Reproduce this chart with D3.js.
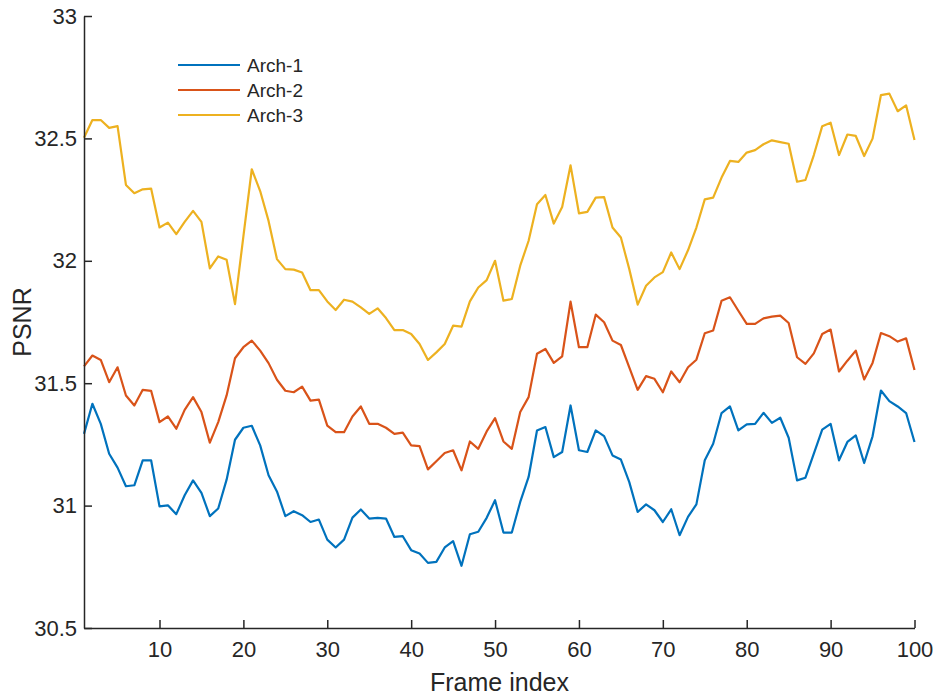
<!DOCTYPE html>
<html>
<head>
<meta charset="utf-8">
<script src="https://cdn.jsdelivr.net/npm/d3@7"></script>
<style>
body { margin: 0; background: #fff; }
text { font-family: "Liberation Sans", Arial, sans-serif; fill: #262626; }
</style>
</head>
<body>
<svg id="chart" width="935" height="697"></svg>
<script>
// PSNR per frame
var arch1 = [31.293, 31.416, 31.334, 31.212, 31.155, 31.079, 31.083, 31.185, 31.185, 30.997,
  31.001, 30.965, 31.042, 31.103, 31.052, 30.957, 30.988, 31.106, 31.269, 31.318,
  31.326, 31.246, 31.124, 31.058, 30.957, 30.977, 30.961, 30.933, 30.943, 30.861,
  30.829, 30.861, 30.951, 30.984, 30.947, 30.950, 30.947, 30.872, 30.875, 30.818,
  30.804, 30.766, 30.770, 30.829, 30.855, 30.754, 30.883, 30.893, 30.950, 31.022,
  30.890, 30.890, 31.015, 31.117, 31.307, 31.321, 31.198, 31.219, 31.409, 31.226,
  31.219, 31.307, 31.284, 31.205, 31.188, 31.096, 30.974, 31.005, 30.981, 30.933,
  30.985, 30.879, 30.954, 31.005, 31.185, 31.253, 31.378, 31.405, 31.307, 31.332,
  31.334, 31.379, 31.338, 31.359, 31.277, 31.103, 31.114, 31.212, 31.310, 31.334,
  31.185, 31.260, 31.287, 31.174, 31.283, 31.470, 31.427, 31.405, 31.378, 31.260];

var arch2 = [31.569, 31.613, 31.595, 31.504, 31.565, 31.450, 31.409, 31.473, 31.469, 31.341,
  31.364, 31.314, 31.391, 31.443, 31.382, 31.257, 31.341, 31.450, 31.602, 31.647,
  31.674, 31.633, 31.582, 31.514, 31.469, 31.463, 31.486, 31.429, 31.433, 31.327,
  31.300, 31.300, 31.364, 31.405, 31.334, 31.334, 31.318, 31.293, 31.298, 31.246,
  31.243, 31.148, 31.181, 31.215, 31.226, 31.144, 31.262, 31.232, 31.303, 31.357,
  31.262, 31.232, 31.382, 31.443, 31.620, 31.640, 31.583, 31.610, 31.833, 31.647,
  31.647, 31.780, 31.749, 31.674, 31.656, 31.565, 31.473, 31.529, 31.518, 31.463,
  31.548, 31.504, 31.565, 31.596, 31.704, 31.715, 31.837, 31.851, 31.796, 31.742,
  31.742, 31.765, 31.772, 31.776, 31.746, 31.606, 31.579, 31.622, 31.701, 31.719,
  31.548, 31.592, 31.633, 31.515, 31.583, 31.705, 31.692, 31.670, 31.683, 31.554];

var arch3 = [32.503, 32.575, 32.575, 32.543, 32.550, 32.310, 32.276, 32.292, 32.295, 32.136,
  32.156, 32.109, 32.159, 32.204, 32.159, 31.969, 32.018, 32.004, 31.823, 32.100,
  32.374, 32.285, 32.163, 32.007, 31.966, 31.964, 31.952, 31.880, 31.880, 31.834,
  31.799, 31.841, 31.833, 31.810, 31.783, 31.806, 31.766, 31.717, 31.717, 31.701,
  31.660, 31.595, 31.626, 31.660, 31.735, 31.731, 31.834, 31.891, 31.921, 32.000,
  31.837, 31.844, 31.980, 32.082, 32.231, 32.269, 32.152, 32.220, 32.390, 32.194,
  32.200, 32.258, 32.260, 32.136, 32.095, 31.966, 31.821, 31.898, 31.932, 31.954,
  32.034, 31.966, 32.043, 32.136, 32.251, 32.258, 32.340, 32.408, 32.404, 32.442,
  32.452, 32.476, 32.492, 32.485, 32.478, 32.323, 32.330, 32.432, 32.550, 32.564,
  32.432, 32.516, 32.510, 32.428, 32.499, 32.677, 32.683, 32.611, 32.635, 32.493];

var seriesNames = ["Arch-1", "Arch-2", "Arch-3"];
var seriesColors = ["#0072BD", "#D95319", "#EDB120"];
var xTicks = [10, 20, 30, 40, 50, 60, 70, 80, 90, 100];
var yTicks = [30.5, 31, 31.5, 32, 32.5, 33];

var svg = d3.select("#chart");
var margin = {left: 84, right: 20, top: 16, bottom: 69};
var W = 935, H = 697;

var x = d3.scaleLinear().domain([1, 100]).range([margin.left, W - margin.right - 0.5]);
var y = d3.scaleLinear().domain([30.5, 33]).range([H - margin.bottom, margin.top]);

var allSeries = [arch1, arch2, arch3];

// lines
var line = d3.line()
    .x(function(d, i){ return x(i + 1); })
    .y(function(d){ return y(d); });

allSeries.forEach(function(s, k){
  svg.append("path")
    .datum(s)
    .attr("d", line)
    .attr("fill", "none")
    .attr("stroke", seriesColors[k])
    .attr("stroke-width", 2.2)
    .attr("stroke-linejoin", "round");
});

// axes, ticks pointing inward
var xAxis = d3.axisBottom(x).tickValues(xTicks).tickSizeInner(-8).tickSizeOuter(0).tickPadding(13);
var yAxis = d3.axisLeft(y).tickValues(yTicks).tickSizeInner(-8).tickSizeOuter(0).tickPadding(7)
    .tickFormat(function(d){ return String(d); });

var gx = svg.append("g")
  .attr("transform", "translate(0," + (H - margin.bottom) + ")")
  .call(xAxis);
var gy = svg.append("g")
  .attr("transform", "translate(" + margin.left + ",0)")
  .call(yAxis);

[gx, gy].forEach(function(g){
  g.select(".domain").attr("stroke", "#262626").attr("stroke-width", 1.5);
  g.selectAll(".tick line").attr("stroke", "#262626").attr("stroke-width", 1.5);
  g.selectAll(".tick text").attr("font-size", 22).attr("fill", "#262626")
    .style("font-family", "'Liberation Sans', Arial, sans-serif");
});

// axis labels
svg.append("text")
  .attr("x", (margin.left + W - margin.right) / 2)
  .attr("y", 691)
  .attr("text-anchor", "middle")
  .attr("font-size", 25)
  .text("Frame index");

svg.append("text")
  .attr("transform", "translate(31," + ((margin.top + H - margin.bottom) / 2) + ") rotate(-90)")
  .attr("text-anchor", "middle")
  .attr("font-size", 25)
  .text("PSNR");

// legend
var legend = svg.append("g").attr("transform", "translate(178,65)");
seriesNames.forEach(function(name, k){
  var row = legend.append("g").attr("transform", "translate(0," + (k * 25) + ")");
  row.append("line")
    .attr("x1", 0).attr("x2", 62)
    .attr("y1", 0).attr("y2", 0)
    .attr("stroke", seriesColors[k])
    .attr("stroke-width", 2.2);
  row.append("text")
    .attr("x", 69)
    .attr("y", 7)
    .attr("font-size", 19)
    .text(name);
});
</script>
</body>
</html>
